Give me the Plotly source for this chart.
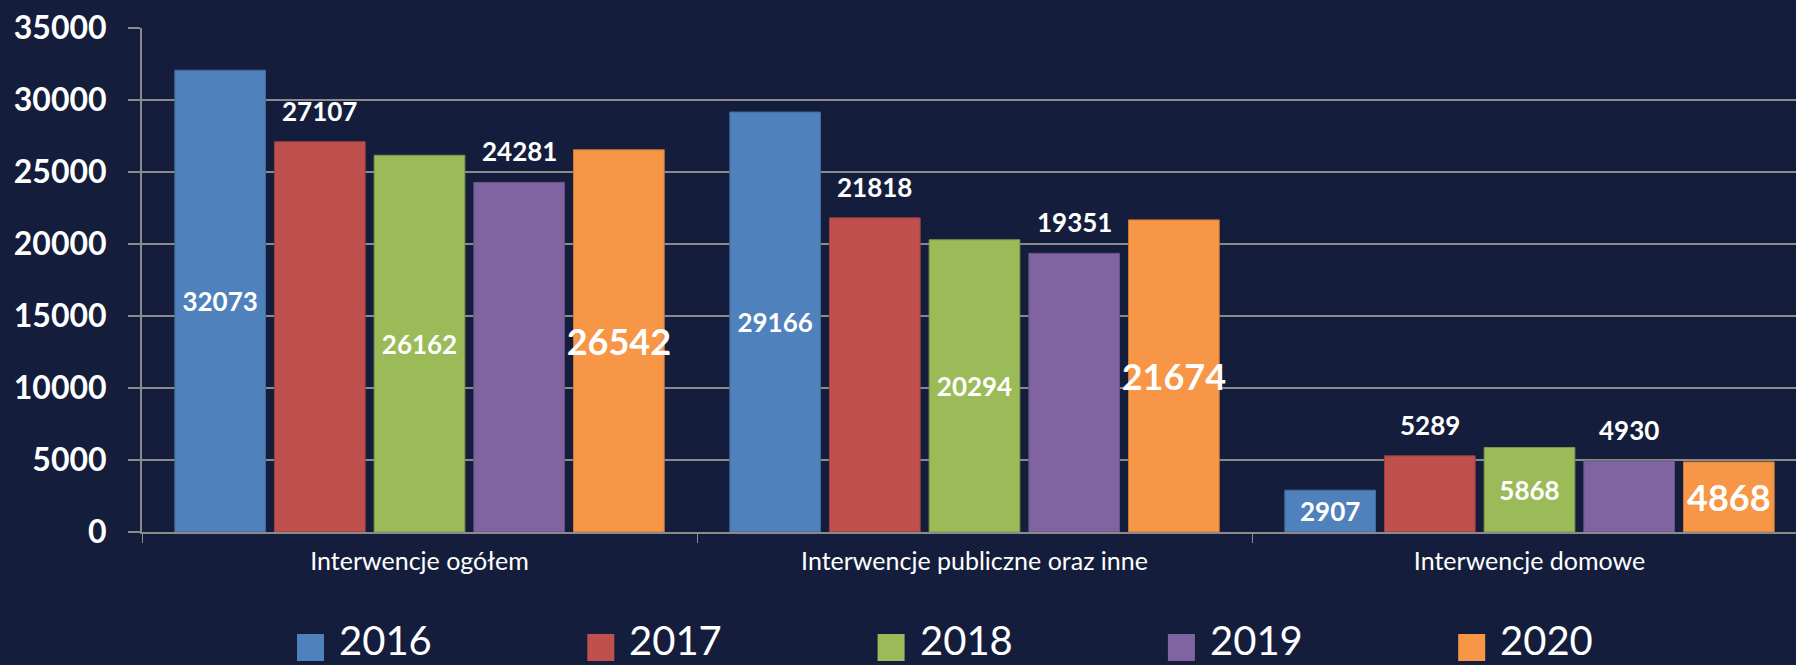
import plotly.graph_objects as go

# ---------------- data ----------------
categories = ["Interwencje ogółem", "Interwencje publiczne oraz inne", "Interwencje domowe"]
years = ["2016", "2017", "2018", "2019", "2020"]
v2016 = [32073, 29166, 2907]
v2017 = [27107, 21818, 5289]
v2018 = [26162, 20294, 5868]
v2019 = [24281, 19351, 4930]
v2020 = [26542, 21674, 4868]
y_ticks = [0, 5000, 10000, 15000, 20000, 25000, 30000, 35000]

# ---------------- style ----------------
colors = ["#4f81bd", "#c0504d", "#9bbb59", "#8064a2", "#f79646"]
edge_colors = ["#41699a", "#9c3f3d", "#7e984a", "#685284", "#c97a3a"]
label_modes = ["inside", "outside", "inside", "outside", "inside"]
label_sizes = [26, 26, 26, 26, 36]
BG = "#141e3c"
GRID = "#8a8a8a"
FONT = "Lato"

W, H = 1796, 665
ML, MR, MT, MB = 142, 0, 28, 133
PW, PH = W - ML - MR, H - MT - MB
CAT_PX = 555.0
BARGAP = 0.102
BARGROUPGAP = 0.09

series = [v2016, v2017, v2018, v2019, v2020]

fig = go.Figure()
annotations = []
n = len(series)
slot = (1 - BARGAP) / n
for i, (yr, vals) in enumerate(zip(years, series)):
    inside = label_modes[i] == "inside"
    fig.add_trace(go.Bar(
        name=yr,
        x=categories,
        y=vals,
        marker=dict(color=colors[i], line=dict(color=edge_colors[i], width=1)),
        text=[str(v) for v in vals] if inside else None,
        textposition="inside" if inside else "none",
        insidetextanchor="middle",
        constraintext="none",
        textangle=0,
        textfont=dict(family=FONT, size=label_sizes[i], color="white", weight="bold"),
        showlegend=False,
        hoverinfo="x+y+name",
    ))
    if not inside:
        for ci, v in enumerate(vals):
            annotations.append(dict(
                x=ci + (i - (n - 1) / 2) * slot, y=v, xref="x", yref="y",
                text=str(v), showarrow=False, xanchor="center", yanchor="bottom",
                yshift=13,
                font=dict(family=FONT, size=label_sizes[i], color="white", weight="bold"),
            ))

# manual legend (large square swatches)
def px_to_paper_x(px):
    return (px - ML) / PW

def px_to_paper_y(py):
    return (H - MB - py) / PH

shapes = []
LEG_X0, LEG_STEP, SW = 297, 290.3, 27
for i, yr in enumerate(years):
    x0 = LEG_X0 + i * LEG_STEP
    shapes.append(dict(
        type="rect", xref="paper", yref="paper",
        x0=px_to_paper_x(x0), x1=px_to_paper_x(x0 + SW),
        y0=px_to_paper_y(661), y1=px_to_paper_y(634),
        fillcolor=colors[i], line=dict(width=0),
    ))
    annotations.append(dict(
        x=px_to_paper_x(x0 + SW + 14), y=px_to_paper_y(665), xref="paper", yref="paper",
        text=yr, showarrow=False, xanchor="left", yanchor="bottom",
        borderpad=0,
        font=dict(family=FONT, size=40, color="white"),
    ))

fig.update_layout(
    width=W, height=H,
    margin=dict(l=ML, r=MR, t=MT, b=MB, pad=0),
    paper_bgcolor=BG, plot_bgcolor=BG,
    barmode="group", bargap=BARGAP, bargroupgap=BARGROUPGAP,
    showlegend=False,
    annotations=annotations,
    shapes=shapes,
    xaxis=dict(
        type="category",
        range=[-0.5, -0.5 + PW / CAT_PX],
        showgrid=False, zeroline=False,
        showline=True, linecolor=GRID, linewidth=2,
        ticks="outside", tickson="boundaries", ticklen=9, tickwidth=1, tickcolor=GRID,
        tickfont=dict(family=FONT, size=25, color="white"),
        ticklabelstandoff=6,
    ),
    yaxis=dict(
        range=[0, 35000],
        tickvals=y_ticks, ticktext=[str(t) for t in y_ticks],
        showgrid=True, gridcolor=GRID, gridwidth=2,
        zeroline=False,
        showline=True, linecolor=GRID, linewidth=2,
        ticks="outside", ticklen=12, tickwidth=2, tickcolor=GRID,
        tickfont=dict(family=FONT, size=32, color="white", weight="bold"),
        ticklabelstandoff=15,
    ),
)

fig.write_html(
    "out.html",
    config={"displayModeBar": False},
    post_script="document.body.style.margin='0';document.body.style.overflow='hidden';",
)
